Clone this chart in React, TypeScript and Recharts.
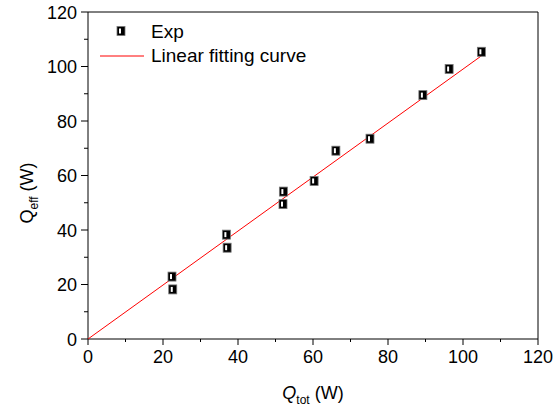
import React from 'react';
import { ScatterChart, Scatter, XAxis, YAxis, ReferenceLine } from 'recharts';

// measured points (Q_tot, Q_eff)
const expQtot = [22.4, 22.6, 36.9, 37.1, 52.1, 52.0, 60.3, 66.1, 75.2, 89.3, 96.3, 104.9];
const expQeff = [22.9, 18.2, 38.3, 33.5, 54.1, 49.5, 58.0, 69.1, 73.5, 89.5, 99.1, 105.4];

// linear fit end points
const fitQtot = [0, 105];
const fitQeff = [0, 104];

const xTicks = [0, 10, 20, 30, 40, 50, 60, 70, 80, 90, 100, 110, 120];
const yTicks = [0, 10, 20, 30, 40, 50, 60, 70, 80, 90, 100, 110, 120];

const legendLabels = ['Exp', 'Linear fitting curve'];

const FONT = '"Liberation Sans", Arial, sans-serif';

const expData = expQtot.map((x, i) => ({ x, y: expQeff[i] }));
const fitData = fitQtot.map((x, i) => ({ x, y: fitQeff[i] }));

const HalfSquare = ({ cx, cy }: any) => (
  <g>
    <rect x={cx - 4} y={cy - 4.5} width={8} height={9} fill="#000" stroke="#777" strokeWidth={0.8} />
    <rect x={cx - 2} y={cy - 2.5} width={2} height={5} fill="#fff" />
  </g>
);

const XTick = ({ x, y, payload }: any) => {
  const major = payload.value % 20 === 0;
  return (
    <g>
      <line x1={x} y1={y} x2={x} y2={y + (major ? 6 : 3)} stroke="#000" strokeWidth={1} />
      {major && (
        <text x={x} y={y + 24} textAnchor="middle" fontSize={18} fontFamily={FONT} fill="#000">
          {payload.value}
        </text>
      )}
    </g>
  );
};

const YTick = ({ x, y, payload }: any) => {
  const major = payload.value % 20 === 0;
  return (
    <g>
      <line x1={x} y1={y} x2={x - (major ? 7 : 4)} y2={y} stroke="#000" strokeWidth={1} />
      {major && (
        <text x={x - 11} y={y + 6.5} textAnchor="end" fontSize={18} fontFamily={FONT} fill="#000">
          {payload.value}
        </text>
      )}
    </g>
  );
};

export default function App() {
  return (
    <div style={{ position: 'absolute', left: 0, top: 0, width: 559, height: 410, background: '#fff' }}>
      <ScatterChart width={559} height={410} margin={{ top: 12, right: 21, bottom: 0, left: 0 }}>
        <XAxis
          type="number"
          dataKey="x"
          domain={[0, 120]}
          ticks={xTicks}
          interval={0}
          height={71}
          tickSize={0}
          tickMargin={0}
          tick={<XTick />}
          axisLine={{ stroke: '#000', strokeWidth: 1 }}
          label={{
            content: () => (
              <text x={313} y={399} textAnchor="middle" fontSize={18} fontFamily={FONT} fill="#000">
                <tspan fontStyle="italic">Q</tspan>
                <tspan fontSize={12} dy={5}>tot</tspan>
                <tspan dy={-5}> (W)</tspan>
              </text>
            ),
          }}
        />
        <YAxis
          type="number"
          dataKey="y"
          domain={[0, 120]}
          ticks={yTicks}
          interval={0}
          width={88}
          tickSize={0}
          tickMargin={0}
          tick={<YTick />}
          axisLine={{ stroke: '#000', strokeWidth: 1 }}
          label={{
            content: () => (
              <text
                x={33}
                y={193}
                transform="rotate(-90, 33, 193)"
                textAnchor="middle"
                fontSize={18}
                fontFamily={FONT}
                fill="#000"
              >
                Q
                <tspan fontSize={12} dy={5}>eff</tspan>
                <tspan dy={-5}> (W)</tspan>
              </text>
            ),
          }}
        />
        <ReferenceLine y={120} stroke="#000" strokeWidth={1} />
        <ReferenceLine x={120} stroke="#000" strokeWidth={1} />
        <Scatter
          data={fitData}
          line={{ stroke: '#ff0000', strokeWidth: 1 }}
          shape={() => null}
          isAnimationActive={false}
        />
        <Scatter data={expData} shape={<HalfSquare />} isAnimationActive={false} />
      </ScatterChart>
      <svg
        width={559}
        height={410}
        style={{ position: 'absolute', left: 0, top: 0, pointerEvents: 'none' }}
      >
        <HalfSquare cx={121} cy={31} />
        <text x={151} y={38} fontSize={19} fontFamily={FONT} fill="#000">{legendLabels[0]}</text>
        <line x1={100} y1={56} x2={144} y2={56} stroke="#ff0000" strokeWidth={1} />
        <text x={151} y={62} fontSize={19} fontFamily={FONT} fill="#000">{legendLabels[1]}</text>
      </svg>
    </div>
  );
}
